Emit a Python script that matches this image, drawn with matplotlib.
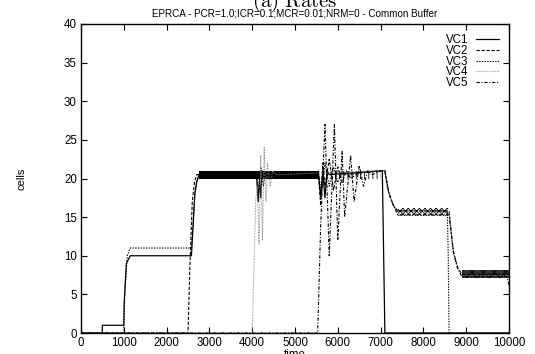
import matplotlib
matplotlib.use("Agg")
import matplotlib.pyplot as plt

plt.rcParams['font.family'] = ['Liberation Sans', 'DejaVu Sans']
plt.rcParams['mathtext.fontset'] = 'cm'
plt.rcParams['hatch.linewidth'] = 0.6

# series (time, cells)
vc1_t = [0, 495, 500, 1000, 1010, 1060, 1150, 2580, 2620, 2660, 2700, 2760, 4100, 4140, 4170, 4200,
         4230, 4280, 5550, 5600, 5650, 5700, 5750, 5800, 7040, 7100, 10000]
vc1_v = [0, 0, 1, 1, 4, 9, 10, 10, 14, 18, 19.5, 20.5, 20.5, 17, 20, 17.5,
         21, 20.5, 20.5, 17.5, 21, 17.5, 21, 20.5, 21, 0, 0]

vc2_t = [0, 2500, 2540, 2600, 2650, 2700, 2760, 5550, 5600, 5650, 5700, 5800, 5900, 6000, 6100,
         6200, 6300, 6500, 7000, 7100, 7150, 7200, 7300, 7400, 8600, 8650, 8700, 8800, 8900, 10000]
vc2_v = [0, 0, 8, 17, 19.5, 20.5, 20.5, 20.5, 16.5, 22, 19, 22.5, 18.5, 21.5, 19.5,
         21, 20, 20.8, 21, 21, 19, 18, 16.5, 15.8, 15.8, 13, 10.5, 8.5, 7.6, 7.6]

vc3_t = [0, 1000, 1020, 1080, 1150, 2580, 2620, 2660, 2720, 2780, 4100, 4150, 4200, 4260, 4300,
         5550, 5620, 5700, 5800, 5900, 6000, 6100, 6200, 7000, 7100, 7150, 7200, 7300, 7400,
         8560, 8580, 8600, 10000]
vc3_v = [0, 0, 5, 10, 11, 11, 14, 18, 20, 20.5, 20.5, 18, 21.5, 19, 20.5,
         20.5, 18, 22, 19, 21.5, 19.5, 21, 20.5, 21, 21, 19.5, 18, 16.5, 15.8,
         15.8, 10, 0, 0]

vc4_t = [0, 4000, 4030, 4080, 4120, 4160, 4200, 4240, 4280, 4320, 4360, 4420, 4480, 4550, 7000,
         7100, 7150, 7200, 7300, 7400, 8600, 8650, 8700, 8800, 8900, 10000]
vc4_v = [0, 0, 6, 17, 19, 11.5, 23, 12, 24, 17, 22, 19, 21, 20.5, 21,
         21, 19, 18, 16.5, 15.5, 15.5, 13, 10.5, 8.5, 7.4, 7.4]

vc5_t = [0, 5530, 5600, 5700, 5800, 5920, 6000, 6100, 6160, 6300, 6380, 6500, 6600, 6700, 6800,
         7000, 7100, 7150, 7200, 7300, 7400, 8600, 8650, 8700, 8800, 8900, 9950, 10000]
vc5_v = [0, 0, 14, 27, 10, 27, 12, 23.5, 15, 23, 17, 21.7, 19, 21, 20.5,
         21, 21, 19.5, 18, 16.5, 15.3, 15.3, 13, 10.5, 8.3, 7.3, 7.3, 6.2]

# envelopes of the fast oscillation bands
band_t0 = [2760, 5560, 7400, 8900]
band_t1 = [5560, 7000, 8580, 10000]
band_lo = [20.0, 20.0, 15.1, 7.1]
band_hi = [21.0, 21.0, 16.2, 8.2]

labels = ['VC1', 'VC2', 'VC3', 'VC4', 'VC5']

fig = plt.figure(figsize=(5.35, 3.54), dpi=100)
ax = fig.add_axes([81 / 535, 1 - 333 / 354, 428 / 535, 309 / 354])

# bands
band_face = ['black', 'none', 'none', '#333333']
band_hatch = [None, '||||', 'xxxxxx', 'xxx']
for t0, t1, lo, hi, fc, h in zip(band_t0, band_t1, band_lo, band_hi, band_face, band_hatch):
    ax.fill_between([t0, t1], [lo, lo], [hi, hi], facecolor=fc, edgecolor='black',
                    hatch=h, linewidth=0, zorder=1)

ax.plot(vc1_t, vc1_v, color='black', lw=0.9, label=labels[0], zorder=3)
ax.plot(vc2_t, vc2_v, color='black', lw=0.8, dashes=(3, 1.5), label=labels[1], zorder=3)
ax.plot(vc3_t, vc3_v, color='black', lw=0.8, dashes=(1.2, 1.2), label=labels[2], zorder=3)
ax.plot(vc4_t, vc4_v, color='#888888', lw=0.8, dashes=(0.6, 0.8), label=labels[3], zorder=3)
ax.plot(vc5_t, vc5_v, color='black', lw=0.8, dashes=(3, 1.5, 1, 1.5), label=labels[4], zorder=3)

ax.set_xlim(0, 10000)
ax.set_ylim(0, 40)
ax.set_xticks(range(0, 10001, 1000))
ax.set_yticks(range(0, 41, 5))
ax.tick_params(direction='in', length=4, width=0.8, top=True, right=True,
               labelsize=8.3, pad=3)
for s in ax.spines.values():
    s.set_linewidth(1.0)

ax.set_xlabel('time', fontsize=8.3, labelpad=0)
ax.set_ylabel('cells', fontsize=8.0, labelpad=27)

leg = ax.legend(loc='upper right', frameon=False, markerfirst=False, fontsize=8.3,
                handlelength=2.0, handletextpad=0.6, labelspacing=-0.12,
                borderaxespad=0.5)
for t in leg.get_texts():
    t.set_ha('right')

fig.text(295 / 535, 1 - 14 / 354, 'EPRCA - PCR=1.0;ICR=0.1;MCR=0.01;NRM=0 - Common Buffer',
         ha='center', va='center', fontsize=7.1)
fig.text(295 / 535, 1 - 7 / 354, r'$\mathrm{(a)\ Rates}$', ha='center', va='baseline',
         fontsize=15)

fig.savefig('out.png', dpi=100)
